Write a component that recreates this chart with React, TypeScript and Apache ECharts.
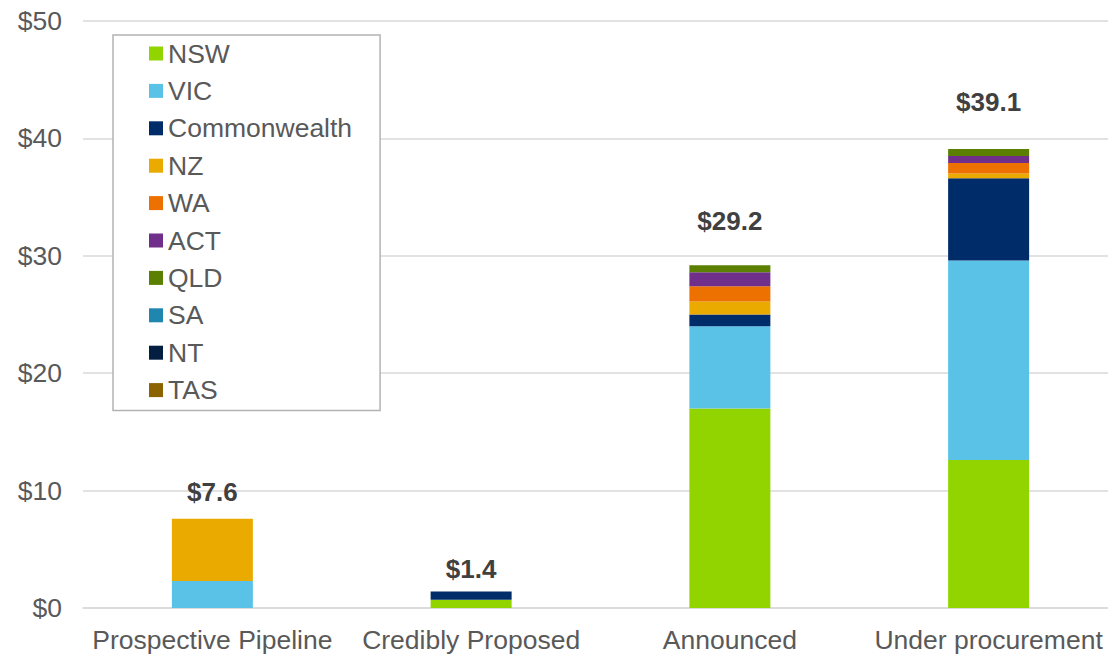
import React, { useEffect, useRef } from "react";
import * as echarts from "echarts";

const categories = ["Prospective Pipeline", "Credibly Proposed", "Announced", "Under procurement"];

const NSW = [0, 0.7, 17.0, 12.6];
const VIC = [2.3, 0, 7.0, 17.0];
const Commonwealth = [0, 0.7, 1.0, 7.0];
const NZ = [5.3, 0, 1.1, 0.4];
const WA = [0, 0, 1.3, 0.9];
const ACT = [0, 0, 1.2, 0.6];
const QLD = [0, 0, 0.6, 0.6];
const SA = [0, 0, 0, 0];
const NT = [0, 0, 0, 0];
const TAS = [0, 0, 0, 0];

const yTicks = [0, 10, 20, 30, 40, 50];

const seriesDefs = [
  { name: "NSW", data: NSW, color: "#92D400" },
  { name: "VIC", data: VIC, color: "#5BC2E7" },
  { name: "Commonwealth", data: Commonwealth, color: "#002D6A" },
  { name: "NZ", data: NZ, color: "#EAAA00" },
  { name: "WA", data: WA, color: "#ED7100" },
  { name: "ACT", data: ACT, color: "#702F8A" },
  { name: "QLD", data: QLD, color: "#5B7F00" },
  { name: "SA", data: SA, color: "#1F86B0" },
  { name: "NT", data: NT, color: "#041E42" },
  { name: "TAS", data: TAS, color: "#8B6300" },
];

const labelDistances = [14, 10, 31, 34];

const FONT = "'Liberation Sans', Arial, sans-serif";

export default function App() {
  const ref = useRef<HTMLDivElement>(null);
  useEffect(() => {
    if (!ref.current) return;
    const chart = echarts.init(ref.current, undefined, { renderer: "svg" });
    const totals = categories.map((_, i) =>
      seriesDefs.reduce((s, d) => s + d.data[i], 0)
    );
    const series: any[] = seriesDefs.map((d) => ({
      name: d.name,
      type: "bar",
      stack: "total",
      barWidth: 81,
      data: d.data,
      itemStyle: { color: d.color },
      emphasis: { disabled: true },
    }));
    series.push({
      name: "Total",
      type: "bar",
      stack: "total",
      barWidth: 81,
      data: totals.map((t, i) => ({
        value: 0,
        label: {
          show: true,
          position: "top",
          distance: labelDistances[i],
          formatter: "$" + t.toFixed(1),
        },
      })),
      itemStyle: { color: "transparent" },
      label: {
        show: true,
        position: "top",
        fontSize: 26,
        lineHeight: 26,
        fontWeight: "bold",
        color: "#404040",
        fontFamily: FONT,
      },
      emphasis: { disabled: true },
    });
    chart.setOption({
      animation: false,
      grid: { left: 83, right: 0, top: 21, bottom: 46 },
      legend: {
        data: seriesDefs.map((d) => d.name),
        orient: "vertical",
        left: 113,
        top: 35,
        padding: [5, 28, 7, 36],
        itemWidth: 14,
        itemHeight: 14,
        itemGap: 10.4,
        icon: "rect",
        backgroundColor: "#ffffff",
        borderColor: "#b3b3b3",
        borderWidth: 1.5,
        textStyle: { fontSize: 26.5, lineHeight: 26, color: "#595959", fontFamily: FONT },
      },
      xAxis: {
        type: "category",
        data: categories,
        axisTick: { show: false },
        axisLine: { lineStyle: { color: "#d9d9d9", width: 1.5 } },
        axisLabel: { fontSize: 26.5, color: "#595959", fontFamily: FONT, margin: 18, interval: 0 },
      },
      yAxis: {
        type: "value",
        min: yTicks[0],
        max: yTicks[yTicks.length - 1],
        interval: 10,
        axisLine: { show: false },
        axisTick: { show: false },
        splitLine: { lineStyle: { color: "#d9d9d9", width: 1.5 } },
        axisLabel: {
          fontSize: 26.5,
          color: "#595959",
          fontFamily: FONT,
          margin: 21,
          formatter: (v: number) => "$" + v,
        },
      },
      series,
    });
    return () => chart.dispose();
  }, []);
  return (
    <div style={{ position: "fixed", left: 0, top: 0, width: 1108, height: 654, overflow: "hidden", background: "#fff" }}>
      <div ref={ref} style={{ width: 1118, height: 654 }} />
    </div>
  );
}
